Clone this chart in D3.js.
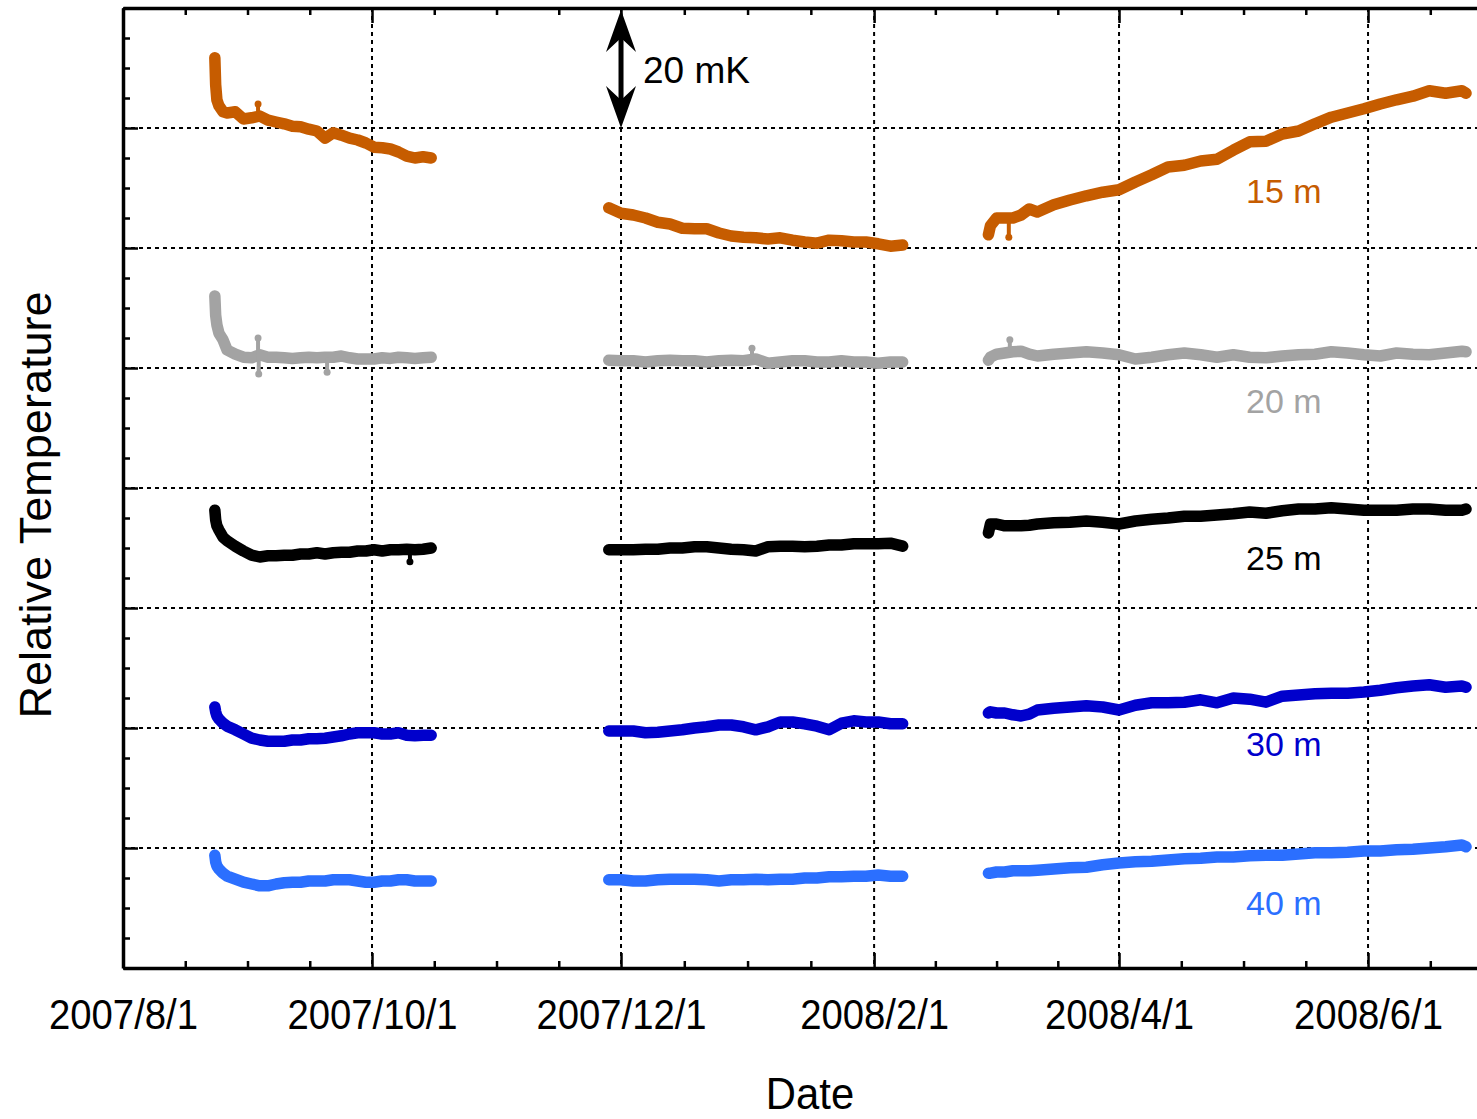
<!DOCTYPE html>
<html>
<head>
<meta charset="utf-8">
<script src="https://cdn.jsdelivr.net/npm/d3@7"></script>
<style>
  body { margin: 0; background: #fff; }
  svg { display: block; }
</style>
</head>
<body>
<svg id="chart" width="1477" height="1119"></svg>
<script>
// ---- data -------------------------------------------------------------
const depths = ["15 m", "20 m", "25 m", "30 m", "40 m"];
const depthColors = ["#c65c00", "#a3a3a3", "#000000", "#0000cc", "#2b6fff"];

// start of each logging period and the sample offsets (days) inside it
const segStarts = ["2007-08-23T12:00:00", "2007-11-28T00:00:00", "2008-02-29T00:00:00"];
const seg1Days = [0, 0.2, 0.5, 1, 2, 3, 5, 7, 9, 11, 13, 15, 17, 19, 21, 23, 25, 27, 29, 31, 33, 35, 37, 39, 41, 43, 45, 47, 49, 51, 53];
const seg2Days = [0, 3, 6, 9, 12, 15, 18, 21, 24, 27, 30, 33, 36, 39, 42, 45, 48, 51, 54, 57, 60, 63, 66, 69, 72];
const seg3Days = [0, 0.5, 2, 4, 6, 8, 10, 12, 16, 20, 24, 28, 32, 36, 40, 44, 48, 52, 56, 60, 64, 68, 72, 76, 80, 84, 88, 92, 96, 100, 104, 108, 112, 116, 117];

// relative temperature (mK, stacked with an offset per depth)
const t15a = [151.7, 147.2, 144.7, 143.7, 142.7, 142.5, 142.7, 141.5, 141.7, 142.0, 141.3, 141.0, 140.7, 140.3, 140.2, 139.8, 139.5, 138.3, 139.2, 138.8, 138.3, 138.0, 137.5, 136.8, 136.7, 136.5, 136.0, 135.3, 135.0, 135.2, 135.0];
const t15b = [126.7, 125.8, 125.5, 125.0, 124.3, 124.0, 123.3, 123.2, 123.2, 122.5, 122.0, 121.8, 121.7, 121.5, 121.7, 121.3, 121.0, 120.8, 121.3, 121.2, 121.0, 121.0, 120.7, 120.3, 120.5];
const t15c = [122.2, 123.7, 125.0, 125.0, 125.0, 125.5, 126.5, 126.0, 127.2, 128.0, 128.7, 129.3, 129.7, 131.0, 132.2, 133.5, 133.8, 134.5, 134.8, 136.3, 137.7, 137.8, 139.0, 139.5, 140.7, 141.8, 142.5, 143.2, 144.0, 144.7, 145.3, 146.2, 145.8, 146.2, 145.8];

const t20a = [112.0, 108.8, 107.2, 105.8, 104.7, 103.0, 102.3, 101.8, 101.7, 102.2, 101.8, 101.8, 101.7, 101.6, 101.7, 101.8, 101.7, 101.8, 101.8, 102.0, 101.7, 101.5, 101.5, 101.5, 101.7, 101.6, 101.8, 101.7, 101.6, 101.7, 101.8];
const t20b = [101.3, 101.2, 101.2, 101.0, 101.2, 101.3, 101.2, 101.2, 101.0, 101.2, 101.3, 101.2, 101.5, 100.8, 101.0, 101.2, 101.2, 101.0, 101.0, 101.2, 101.0, 101.0, 100.8, 101.0, 101.0];
const t20c = [101.3, 101.8, 102.3, 102.5, 102.7, 102.8, 102.3, 102.0, 102.3, 102.5, 102.7, 102.5, 102.2, 101.5, 101.8, 102.2, 102.5, 102.2, 101.8, 102.2, 101.8, 101.7, 102.0, 102.2, 102.3, 102.7, 102.5, 102.2, 102.0, 102.5, 102.3, 102.2, 102.5, 102.8, 102.7];

const t25a = [76.3, 74.7, 73.7, 73.0, 71.8, 71.2, 70.3, 69.5, 68.8, 68.5, 68.7, 68.7, 68.8, 68.8, 69.0, 69.0, 69.2, 69.0, 69.2, 69.3, 69.3, 69.5, 69.5, 69.7, 69.5, 69.7, 69.7, 69.8, 69.7, 69.8, 70.0];
const t25b = [69.7, 69.7, 69.7, 69.8, 69.8, 70.0, 70.0, 70.2, 70.2, 70.0, 69.8, 69.7, 69.5, 70.2, 70.3, 70.3, 70.2, 70.3, 70.5, 70.5, 70.7, 70.7, 70.7, 70.8, 70.3];
const t25c = [72.5, 74.0, 74.0, 73.7, 73.7, 73.7, 73.8, 74.0, 74.2, 74.3, 74.5, 74.3, 74.0, 74.5, 74.8, 75.0, 75.3, 75.3, 75.5, 75.7, 76.0, 75.8, 76.2, 76.5, 76.5, 76.7, 76.5, 76.3, 76.3, 76.3, 76.5, 76.5, 76.3, 76.3, 76.5];

const t30a = [43.5, 42.7, 42.0, 41.5, 40.8, 40.3, 39.7, 39.0, 38.3, 38.0, 37.8, 37.8, 37.8, 38.0, 38.0, 38.2, 38.2, 38.3, 38.5, 38.7, 39.0, 39.2, 39.2, 39.2, 39.0, 39.0, 39.2, 38.8, 38.7, 38.8, 38.8];
const t30b = [39.5, 39.5, 39.5, 39.2, 39.3, 39.5, 39.7, 40.0, 40.2, 40.5, 40.5, 40.2, 39.7, 40.2, 41.0, 41.0, 40.7, 40.3, 39.7, 40.8, 41.2, 41.0, 41.0, 40.7, 40.7];
const t30c = [42.5, 42.7, 42.5, 42.5, 42.2, 42.0, 42.3, 43.0, 43.3, 43.5, 43.7, 43.5, 43.0, 43.8, 44.2, 44.2, 44.3, 44.7, 44.2, 45.0, 44.8, 44.3, 45.3, 45.5, 45.7, 45.8, 45.8, 46.0, 46.3, 46.7, 47.0, 47.2, 46.8, 47.0, 46.8];

const t40a = [18.8, 17.7, 17.0, 16.5, 15.8, 15.3, 14.8, 14.3, 14.0, 13.7, 13.7, 14.0, 14.2, 14.3, 14.3, 14.5, 14.5, 14.5, 14.7, 14.7, 14.7, 14.5, 14.3, 14.3, 14.5, 14.5, 14.7, 14.7, 14.5, 14.5, 14.5];
const t40b = [14.7, 14.7, 14.5, 14.5, 14.7, 14.8, 14.8, 14.8, 14.7, 14.5, 14.7, 14.7, 14.8, 14.7, 14.8, 14.8, 15.0, 15.0, 15.2, 15.2, 15.3, 15.3, 15.5, 15.3, 15.3];
const t40c = [15.8, 15.8, 16.0, 16.0, 16.2, 16.2, 16.2, 16.3, 16.5, 16.7, 16.8, 17.2, 17.5, 17.7, 17.8, 18.0, 18.2, 18.3, 18.5, 18.5, 18.7, 18.8, 18.8, 19.0, 19.2, 19.2, 19.3, 19.5, 19.5, 19.7, 19.8, 20.0, 20.2, 20.5, 20.2];

// isolated outlying readings: depth index, time, value (mK)
const spikeDepth = [0, 0, 1, 1, 1, 1, 1, 2];
const spikeTimes = ["2007-09-03T02:00:00", "2008-03-05T00:00:00", "2007-09-03T02:00:00", "2007-09-03T06:00:00",
                    "2007-09-20T00:00:00", "2008-01-02T02:00:00", "2008-03-05T06:00:00", "2007-10-10T07:00:00"];
const spikeValues = [144.0, 121.8, 105.0, 99.0, 99.3, 103.3, 104.7, 67.7];

const xTickDates = ["2007-08-01", "2007-10-01", "2007-12-01", "2008-02-01", "2008-04-01", "2008-06-01", "2008-08-01"];
const xTickLabels = ["2007/8/1", "2007/10/1", "2007/12/1", "2008/2/1", "2008/4/1", "2008/6/1", ""];
const scaleBarMK = [140, 160];   // the 20 mK bar
const labelText = "20 mK";

// ---- layout -------------------------------------------------------------
const svg = d3.select("#chart");
const plotLeft = 123, plotTop = 8, plotBottom = 968;
const parse = s => new Date(s.length === 10 ? s + "T00:00:00" : s);

const x = d3.scaleTime()
  .domain([parse("2007-08-01"), parse("2008-07-01")])
  .range([plotLeft, 1490.5]);
const y = d3.scaleLinear().domain([0, 160]).range([plotBottom, plotTop]);

const majorDates = xTickDates.map(parse);
const minorDates = [];
for (let i = 0; i < majorDates.length - 1; i++) {
  const a = +majorDates[i], b = +majorDates[i + 1];
  for (let k = 1; k < 4; k++) minorDates.push(new Date(a + (b - a) * k / 4));
}

const plot = svg.append("g");

// grid
const gridG = plot.append("g").attr("stroke", "#000").attr("stroke-width", 2)
  .attr("stroke-dasharray", "4,4");
gridG.selectAll("line.h").data(d3.range(20, 160, 20)).join("line").attr("class", "h")
  .attr("x1", plotLeft).attr("x2", 1477).attr("y1", d => y(d)).attr("y2", d => y(d));
gridG.selectAll("line.v").data(majorDates.slice(1, 6)).join("line").attr("class", "v")
  .attr("y1", plotTop).attr("y2", plotBottom).attr("x1", d => x(d)).attr("x2", d => x(d));

// series
const segs = [
  { days: seg1Days, start: segStarts[0], sets: [t15a, t20a, t25a, t30a, t40a] },
  { days: seg2Days, start: segStarts[1], sets: [t15b, t20b, t25b, t30b, t40b] },
  { days: seg3Days, start: segStarts[2], sets: [t15c, t20c, t25c, t30c, t40c] }
];
const line = d3.line().x(d => x(d.t)).y(d => y(d.v));
const seriesG = plot.append("g");
const seriesPts = depths.map(() => []);
depths.forEach((name, i) => {
  segs.forEach(seg => {
    const t0 = +parse(seg.start);
    const pts = seg.days.map((dd, j) => ({ t: new Date(t0 + dd * 864e5), v: seg.sets[i][j] }));
    seriesPts[i].push(...pts);
    seriesG.append("path").datum(pts)
      .attr("d", line)
      .attr("fill", "none")
      .attr("stroke", depthColors[i])
      .attr("stroke-width", 11.5)
      .attr("stroke-linejoin", "round")
      .attr("stroke-linecap", "round");
  });
});

// outlying readings: a thin stroke from the trace out to the reading
const bis = d3.bisector(d => d.t).left;
spikeTimes.forEach((ts, k) => {
  const i = spikeDepth[k], t = parse(ts), pts = seriesPts[i];
  const j = Math.max(1, bis(pts, t));
  const a = pts[j - 1], b = pts[Math.min(j, pts.length - 1)];
  const f = b.t - a.t ? (t - a.t) / (b.t - a.t) : 0;
  const base = a.v + (b.v - a.v) * f;
  seriesG.append("line")
    .attr("x1", x(t)).attr("x2", x(t)).attr("y1", y(base)).attr("y2", y(spikeValues[k]))
    .attr("stroke", depthColors[i]).attr("stroke-width", 4);
  seriesG.append("circle").attr("cx", x(t)).attr("cy", y(spikeValues[k])).attr("r", 3.5)
    .attr("fill", depthColors[i]);
});

// axes
const tickFont = "'Liberation Sans', Arial, sans-serif";
const styleAxis = g => {
  g.selectAll(".tick line").attr("stroke", "#000").attr("stroke-width", 2.5);
  g.select(".domain").attr("stroke", "#000").attr("stroke-width", 3.5);
};

plot.append("g").attr("transform", `translate(0,${plotBottom})`)
  .call(d3.axisBottom(x).tickValues(minorDates).tickSizeInner(-7).tickSizeOuter(0).tickFormat(""))
  .call(g => g.select(".domain").remove())
  .call(styleAxis);
plot.append("g").attr("transform", `translate(0,${plotBottom})`)
  .call(d3.axisBottom(x).tickValues(majorDates).tickSizeInner(-15).tickSizeOuter(0)
    .tickPadding(30).tickFormat((d, i) => xTickLabels[i]))
  .call(styleAxis)
  .call(g => g.selectAll("text").attr("font-family", tickFont).attr("font-size", 43)
    .attr("transform", "scale(0.89,1)").attr("fill", "#000"));

plot.append("g").attr("transform", `translate(0,${plotTop})`)
  .call(d3.axisTop(x).tickValues(minorDates).tickSizeInner(-7).tickSizeOuter(0).tickFormat(""))
  .call(g => g.select(".domain").remove())
  .call(styleAxis);
plot.append("g").attr("transform", `translate(0,${plotTop})`)
  .call(d3.axisTop(x).tickValues(majorDates).tickSizeInner(-15).tickSizeOuter(0).tickFormat(""))
  .call(styleAxis);

plot.append("g").attr("transform", `translate(${plotLeft},0)`)
  .call(d3.axisLeft(y).tickValues(d3.range(5, 160, 5).filter(v => v % 20)).tickSizeInner(-7).tickSizeOuter(0).tickFormat(""))
  .call(g => g.select(".domain").remove())
  .call(styleAxis);
plot.append("g").attr("transform", `translate(${plotLeft},0)`)
  .call(d3.axisLeft(y).tickValues(d3.range(0, 161, 20)).tickSizeInner(-15).tickSizeOuter(0).tickFormat(""))
  .call(styleAxis);

// scale bar: double arrow spanning 20 mK
const ax = x(parse("2007-12-01"));
const yTop = y(scaleBarMK[1]) + 2, yBot = y(scaleBarMK[0]);
const bar = plot.append("g").attr("fill", "#000");
bar.append("rect").attr("x", ax - 2.5).attr("width", 5).attr("y", yTop + 20).attr("height", yBot - yTop - 40);
bar.append("path").attr("d", `M${ax},${yTop} L${ax + 15},${yTop + 42} L${ax},${yTop + 28} L${ax - 15},${yTop + 42} Z`);
bar.append("path").attr("d", `M${ax},${yBot} L${ax + 15},${yBot - 42} L${ax},${yBot - 28} L${ax - 15},${yBot - 42} Z`);
plot.append("text").attr("x", ax + 22).attr("y", 83)
  .attr("font-family", "'Liberation Sans', Arial, sans-serif").attr("font-size", 37)
  .attr("fill", "#000").text(labelText);

// depth labels
const labelBaselines = [203, 413, 570, 756, 915];
depths.forEach((name, i) => {
  plot.append("text").attr("x", 1246).attr("y", labelBaselines[i])
    .attr("font-family", "'Liberation Sans', Arial, sans-serif").attr("font-size", 34)
    .attr("fill", depthColors[i]).text(name);
});

// axis titles
svg.append("text").attr("transform", "translate(810,1109) scale(0.95,1)").attr("text-anchor", "middle")
  .attr("font-family", tickFont).attr("font-size", 44)
  .attr("fill", "#000").text("Date");
svg.append("text").attr("transform", "translate(51,505) rotate(-90)").attr("text-anchor", "middle")
  .attr("font-family", "'Liberation Sans', Arial, sans-serif").attr("font-size", 45)
  .attr("fill", "#000").text("Relative Temperature");
</script>
</body>
</html>
